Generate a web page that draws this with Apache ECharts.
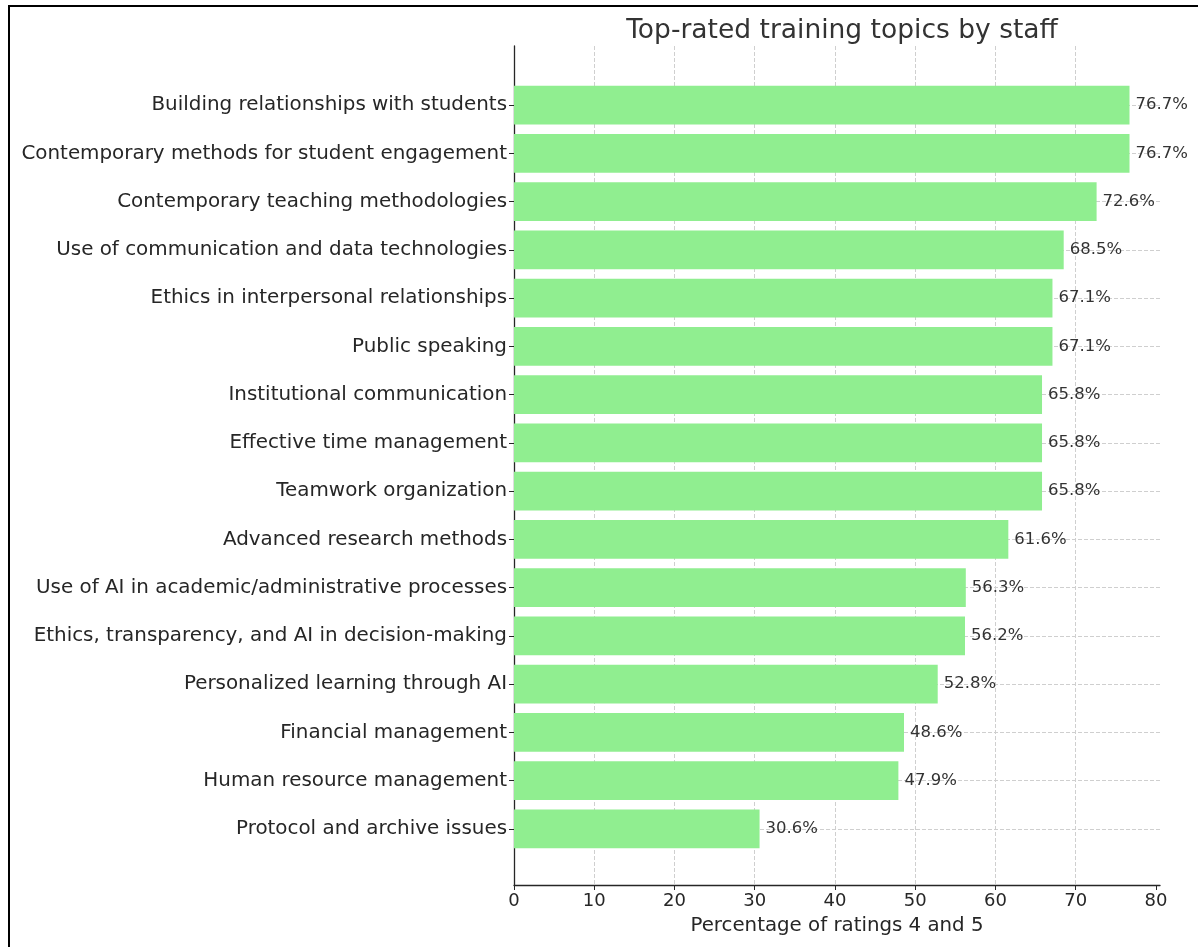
<!DOCTYPE html>
<html>
<head>
<meta charset="utf-8">
<script src="https://cdn.jsdelivr.net/npm/echarts@6/dist/echarts.min.js"></script>
<style>
html,body{margin:0;padding:0;background:#fff;}
#chart{width:1198px;height:947px;}
</style>
</head>
<body>
<div id="chart"></div>
<script>
const categories = [
  "Building relationships with students",
  "Contemporary methods for student engagement",
  "Contemporary teaching methodologies",
  "Use of communication and data technologies",
  "Ethics in interpersonal relationships",
  "Public speaking",
  "Institutional communication",
  "Effective time management",
  "Teamwork organization",
  "Advanced research methods",
  "Use of AI in academic/administrative processes",
  "Ethics, transparency, and AI in decision-making",
  "Personalized learning through AI",
  "Financial management",
  "Human resource management",
  "Protocol and archive issues"
];
const values = [76.7, 76.7, 72.6, 68.5, 67.1, 67.1, 65.8, 65.8, 65.8, 61.6, 56.3, 56.2, 52.8, 48.6, 47.9, 30.6];
const xTicks = [0, 10, 20, 30, 40, 50, 60, 70, 80];
const titleText = "Top-rated training topics by staff";
const xName = "Percentage of ratings 4 and 5";

const FONT = "DejaVu Sans";
const TXT = "#262626";
const GRIDC = "#cfcfcf";

const chart = echarts.init(document.getElementById('chart'), null, {renderer: 'canvas'});
chart.setOption({
  animation: false,
  backgroundColor: '#fff',
  textStyle: {fontFamily: FONT},
  title: {
    text: titleText,
    left: 837,
    textAlign: 'center',
    top: 13,
    textStyle: {fontFamily: FONT, fontSize: 26.5, fontWeight: 'normal', color: '#333'}
  },
  graphic: [{
    type: 'rect',
    shape: {x: 9, y: 6, width: 1400, height: 1200},
    style: {fill: 'none', stroke: '#000', lineWidth: 2},
    silent: true
  }],
  grid: [
    {left: 514, right: 38, top: 46, bottom: 62, containLabel: false},
    {left: 514, right: 38, top: 81, bottom: 94, containLabel: false}
  ],
  xAxis: [
    {
      gridIndex: 0, type: 'value', min: 0, max: 80.5, interval: 10,
      name: xName, nameLocation: 'middle', nameGap: 31,
      nameTextStyle: {fontFamily: FONT, fontSize: 19.8, color: TXT},
      axisLine: {show: true, lineStyle: {color: TXT, width: 1.3}},
      axisTick: {show: true, length: 5, customValues: xTicks, lineStyle: {color: TXT}},
      axisLabel: {customValues: xTicks, fontFamily: FONT, fontSize: 18, color: TXT, margin: 7,
        formatter: v => (v % 10 === 0 ? String(v) : '')},
      splitLine: {show: true, showMaxLine: false, lineStyle: {color: GRIDC, type: [4, 2], width: 1}}
    },
    {
      gridIndex: 1, type: 'value', min: 0, max: 80.5, show: false,
      splitLine: {show: false}
    }
  ],
  yAxis: [
    {
      gridIndex: 0, type: 'value', min: 0, max: 1,
      axisLine: {show: true, lineStyle: {color: TXT, width: 1.3}},
      axisTick: {show: false}, axisLabel: {show: false}, splitLine: {show: false}
    },
    {
      gridIndex: 1, type: 'category', data: categories, inverse: true,
      axisLine: {show: false},
      axisTick: {show: true, alignWithLabel: true, length: 5, lineStyle: {color: TXT}},
      axisLabel: {fontFamily: FONT, fontSize: 19.9, color: TXT, margin: 7},
      splitLine: {show: true, alignWithLabel: true, lineStyle: {color: GRIDC, type: [4, 2], width: 1}}
    }
  ],
  series: [{
    type: 'bar',
    xAxisIndex: 1, yAxisIndex: 1,
    data: values,
    barWidth: '80%',
    itemStyle: {color: '#90EE90'},
    label: {show: true, position: 'right', distance: 6, formatter: '{c}%',
      fontFamily: FONT, fontSize: 16.5, color: '#333'}
  }]
});
</script>
</body>
</html>
